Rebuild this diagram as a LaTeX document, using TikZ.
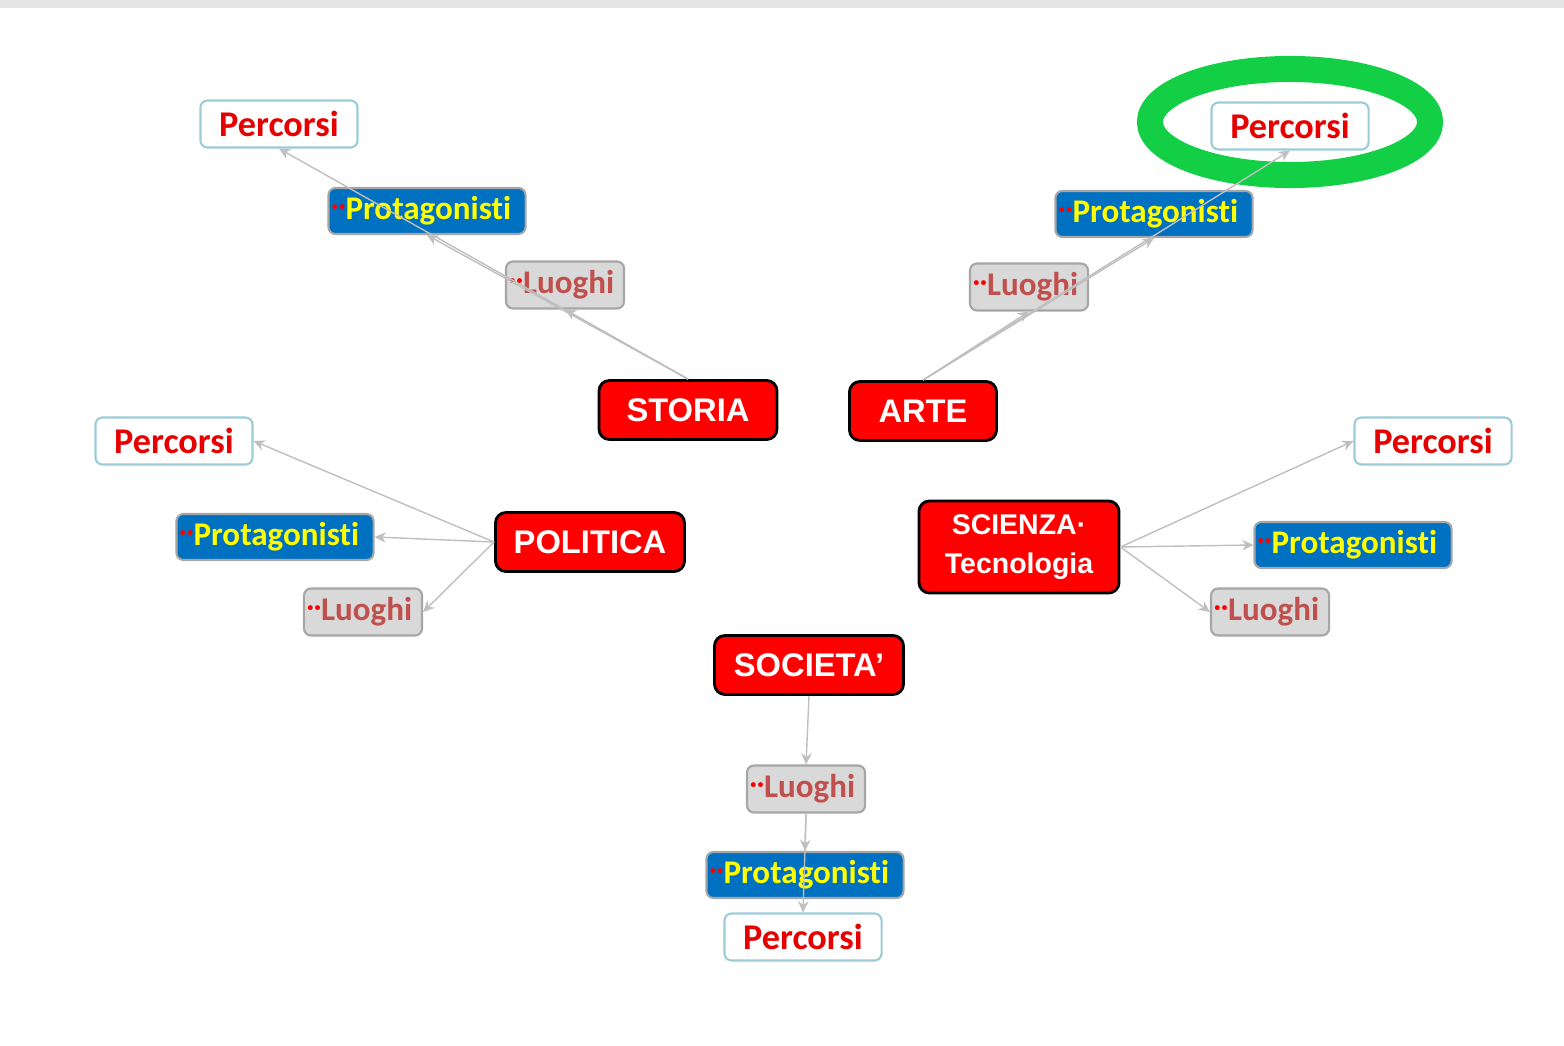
\documentclass[tikz,border=0pt]{standalone}
\usepackage{fontspec}
\setmainfont{Liberation Sans}
\newfontfamily\calibri[Ligatures=NoCommon]{Carlito}
\usetikzlibrary{arrows.meta}

\definecolor{temared}{HTML}{FF0000}
\definecolor{protblue}{HTML}{0070C0}
\definecolor{protyellow}{HTML}{FFFF00}
\definecolor{luogray}{HTML}{D9D9D9}
\definecolor{luotext}{HTML}{C0504D}
\definecolor{boxgray}{HTML}{A6A6A6}
\definecolor{percborder}{HTML}{9CCBD8}
\definecolor{percred}{HTML}{E60000}
\definecolor{cerchio}{HTML}{12CF46}
\definecolor{freccia}{HTML}{BFBFBF}
\definecolor{barra}{HTML}{E5E5E5}

\newcommand{\puntini}{{\color{red}\fontsize{7.5}{7.5}\selectfont\raisebox{0.2em}{··}}}

\tikzset{
    tema/.style={draw=black, line width=0.8pt, fill=temared, rounded corners=3pt,
        text=white, font=\fontsize{9.3}{11}\selectfont\bfseries,
        minimum height=0.59cm, inner sep=0pt},
    percorso/.style={draw=percborder, line width=0.6pt, fill=white, rounded corners=2pt,
        text=percred, font=\calibri\fontsize{10.3}{12}\selectfont\bfseries,
        minimum width=1.57cm, minimum height=0.47cm, inner sep=0pt},
    protag/.style={draw=boxgray, line width=0.6pt, fill=protblue, rounded corners=2pt,
        text=protyellow, font=\calibri\fontsize{9.4}{11}\selectfont\bfseries,
        text width=1.91cm, align=left, inner xsep=0.03cm, inner ysep=0pt,
        minimum height=0.46cm},
    luogo/.style={draw=boxgray, line width=0.6pt, fill=luogray, rounded corners=2pt,
        text=luotext, font=\calibri\fontsize{9.4}{11}\selectfont\bfseries,
        text width=1.12cm, align=left, inner xsep=0.03cm, inner ysep=0pt,
        minimum height=0.47cm},
    conn/.style={draw=freccia, line width=0.4pt,
        -{Stealth[length=3.2pt, width=3pt]}}
}

\begin{document}
\begin{tikzpicture}[x=0.01cm, y=-0.01cm]

    \useasboundingbox (0,0) rectangle (1564,1046);
    \fill[barra] (0,0) rectangle (1564,8);

    % --------------------------
    % temi principali
    % --------------------------
    \node[tema, minimum width=1.78cm] (storia) at (688,410) {STORIA};
    \node[tema, minimum width=1.47cm] (arte) at (923,411) {ARTE};
    \node[tema, minimum width=1.89cm] (politica) at (590,542) {POLITICA};
    \node[tema, minimum width=2.00cm, minimum height=0.92cm, align=center,
        font=\fontsize{8.1}{11}\selectfont\bfseries] (scienza) at (1019,547)
        {SCIENZA·\\Tecnologia};
    \node[tema, minimum width=1.89cm] (societa) at (809,665) {SOCIETA’};

    % --------------------------
    % STORIA
    % --------------------------
    \node[percorso] (st-perc) at (279,124) {Percorsi};
    \node[protag] (st-prot) at (427,211) {\puntini Protagonisti};
    \node[luogo] (st-luo) at (565,285) {\puntini Luoghi};

    % --------------------------
    % ARTE
    % --------------------------
    \draw[cerchio, line width=0.26cm] (1290,122) ellipse [x radius=1.40cm, y radius=0.53cm];
    \node[percorso] (ar-perc) at (1290,126) {Percorsi};
    \node[protag] (ar-prot) at (1154,214) {\puntini Protagonisti};
    \node[luogo] (ar-luo) at (1029,287) {\puntini Luoghi};

    % --------------------------
    % POLITICA
    % --------------------------
    \node[percorso] (po-perc) at (174,441) {Percorsi};
    \node[protag] (po-prot) at (275,537) {\puntini Protagonisti};
    \node[luogo] (po-luo) at (363,612) {\puntini Luoghi};

    % --------------------------
    % SCIENZA
    % --------------------------
    \node[percorso] (sc-perc) at (1433,441) {Percorsi};
    \node[protag] (sc-prot) at (1353,545) {\puntini Protagonisti};
    \node[luogo] (sc-luo) at (1270,612) {\puntini Luoghi};

    % --------------------------
    % SOCIETA'
    % --------------------------
    \node[luogo] (so-luo) at (806,789) {\puntini Luoghi};
    \node[protag] (so-prot) at (805,875) {\puntini Protagonisti};
    \node[percorso] (so-perc) at (803,937) {Percorsi};

    % collegamenti
    \draw[conn] (storia.north) -- (st-luo.south);
    \draw[conn] (storia.north) -- (st-prot.south);
    \draw[conn] (storia.north) -- (st-perc.south);

    \draw[conn] (arte.north) -- (ar-luo.south);
    \draw[conn] (arte.north) -- (ar-prot.south);
    \draw[conn] (arte.north) -- (ar-perc.south);

    \draw[conn] (politica.west) -- (po-perc.east);
    \draw[conn] (politica.west) -- (po-prot.east);
    \draw[conn] (politica.west) -- (po-luo.east);

    \draw[conn] (scienza.east) -- (sc-perc.west);
    \draw[conn] (scienza.east) -- (sc-prot.west);
    \draw[conn] (scienza.east) -- (sc-luo.west);

    \draw[conn] (societa.south) -- (so-luo.north);
    \draw[conn] (so-luo.south) -- (so-prot.north);
    \draw[conn] (so-luo.south) -- (so-perc.north);

\end{tikzpicture}
\end{document}
